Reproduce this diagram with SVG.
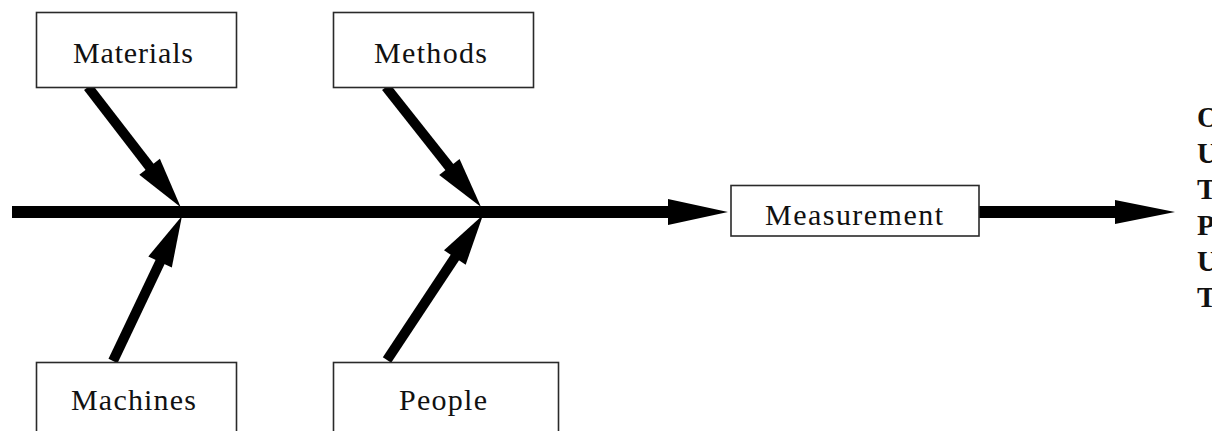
<svg xmlns="http://www.w3.org/2000/svg" width="1212" height="431" viewBox="0 0 1212 431">
<style>
  .box { fill: #ffffff; stroke: #2a2a2a; stroke-width: 1.6; }
  .lbl { font-family: "Liberation Serif", "Times New Roman", serif; font-size: 30px; fill: #111; text-anchor: middle; }
  .out { font-family: "Liberation Serif", "Times New Roman", serif; font-size: 29px; font-weight: bold; fill: #111; }
  .shaft { stroke: #000; stroke-width: 10; fill: none; }
  .spine { stroke: #000; stroke-width: 12; fill: none; }
  .head { fill: #000; }
</style>
<defs>
  <marker id="ah" markerUnits="userSpaceOnUse" markerWidth="52" markerHeight="28" refX="0" refY="13" orient="auto" overflow="visible">
    <path d="M-1,0 L50,13 L-1,26 z" fill="#000"/>
  </marker>
</defs>
<rect width="1212" height="431" fill="#ffffff"/>
<g id="connectors">
  <line class="spine" x1="12" y1="212" x2="670" y2="212"/>
  <polygon class="head" points="668,199 728,212 668,225"/>
  <line class="spine" x1="979" y1="212" x2="1117" y2="212"/>
  <polygon class="head" points="1115,200 1175,212 1115,224"/>
  <line class="shaft" x1="88" y1="87" x2="150.2" y2="167.6" marker-end="url(#ah)"/>
  <line class="shaft" x1="113" y1="361" x2="160.5" y2="261.1" marker-end="url(#ah)"/>
  <line class="shaft" x1="386" y1="87" x2="450" y2="167.8" marker-end="url(#ah)"/>
  <line class="shaft" x1="387" y1="360" x2="455.4" y2="256.7" marker-end="url(#ah)"/>
</g>
<g id="materials">
  <rect class="box" x="36.5" y="12.5" width="200" height="75"/>
  <text class="lbl" x="133" y="63" textLength="120" lengthAdjust="spacing">Materials</text>
</g>
<g id="methods">
  <rect class="box" x="333.5" y="12.5" width="200" height="75"/>
  <text class="lbl" x="430.5" y="63" textLength="113" lengthAdjust="spacing">Methods</text>
</g>
<g id="measurement">
  <rect class="box" x="731" y="185.5" width="248" height="50.5"/>
  <text class="lbl" x="854" y="225" textLength="178" lengthAdjust="spacing">Measurement</text>
</g>
<g id="machines">
  <rect class="box" x="36.5" y="362.5" width="200" height="80"/>
  <text class="lbl" x="133.5" y="410" textLength="125" lengthAdjust="spacing">Machines</text>
</g>
<g id="people">
  <rect class="box" x="333.5" y="362.5" width="225" height="80"/>
  <text class="lbl" x="443" y="410" textLength="88" lengthAdjust="spacing">People</text>
</g>
<g id="output">
  <text class="out" x="1197" y="127">O</text>
  <text class="out" x="1197" y="163">U</text>
  <text class="out" x="1197" y="199">T</text>
  <text class="out" x="1197" y="235">P</text>
  <text class="out" x="1197" y="271">U</text>
  <text class="out" x="1197" y="307">T</text>
</g>
</svg>
